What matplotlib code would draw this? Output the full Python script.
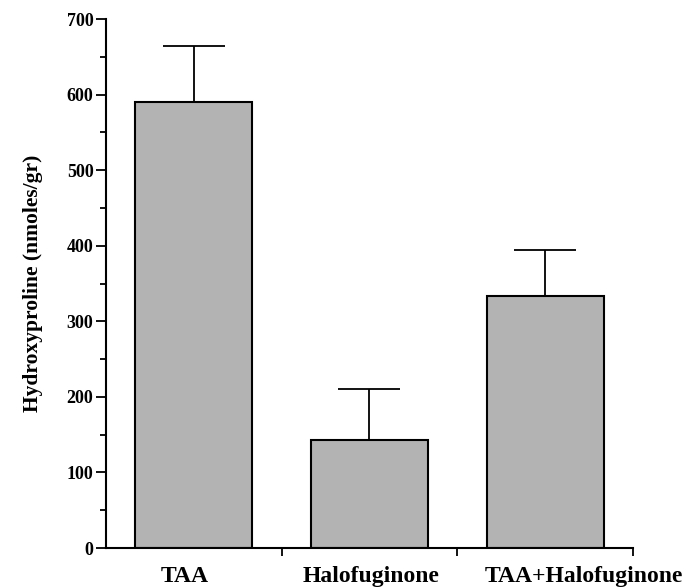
import matplotlib
matplotlib.use('Agg')
import matplotlib.pyplot as plt
import numpy as np

# Data
groups = ['TAA', 'Halofuginone', 'TAA+Halofuginone']
means = [590, 143, 334]
errors = [74, 67, 60]

plt.rcParams['font.family'] = ['Liberation Serif', 'DejaVu Serif']
plt.rcParams['font.weight'] = 'bold'

fig = plt.figure(figsize=(6.95, 5.87), dpi=100)
ax = fig.add_axes([0.1525, 0.0664, 0.7583, 0.9012])

x = np.arange(len(groups)) + 0.5
ax.bar(x, means, width=0.665, color='#b3b3b3', edgecolor='black', linewidth=1.5,
       zorder=2)
ax.errorbar(x, means, yerr=[np.zeros(len(errors)), errors], fmt='none',
            ecolor='black', elinewidth=1.3, capsize=22, capthick=1.3, zorder=1)

ax.set_xlim(0, len(groups))
ax.set_ylim(0, 700)

# y axis ticks
ax.set_yticks(np.arange(0, 701, 100))
ax.set_yticks(np.arange(50, 700, 100), minor=True)
ax.tick_params(axis='y', which='major', direction='out', length=7, width=1.3,
               labelsize=13, pad=2)
ax.tick_params(axis='y', which='minor', direction='out', length=4, width=1.3)

# x axis: ticks at category boundaries, labels roughly under each bar
label_pos = [0.45, 1.51, 2.72]
ax.set_xticks(np.arange(1, len(groups) + 1))
ax.set_xticklabels([])
ax.set_xticks(label_pos, minor=True)
ax.set_xticklabels(groups, minor=True, fontsize=17, fontweight='bold')
ax.tick_params(axis='x', which='major', direction='out', length=6, width=1.3)
ax.tick_params(axis='x', which='minor', length=0, pad=13)

for s in ['top', 'right']:
    ax.spines[s].set_visible(False)
for s in ['left', 'bottom']:
    ax.spines[s].set_linewidth(1.5)

ax.set_ylabel('Hydroxyproline (nmoles/gr)', fontsize=15.5, fontweight='bold',
              labelpad=17)

fig.savefig('out.png', dpi=100)
